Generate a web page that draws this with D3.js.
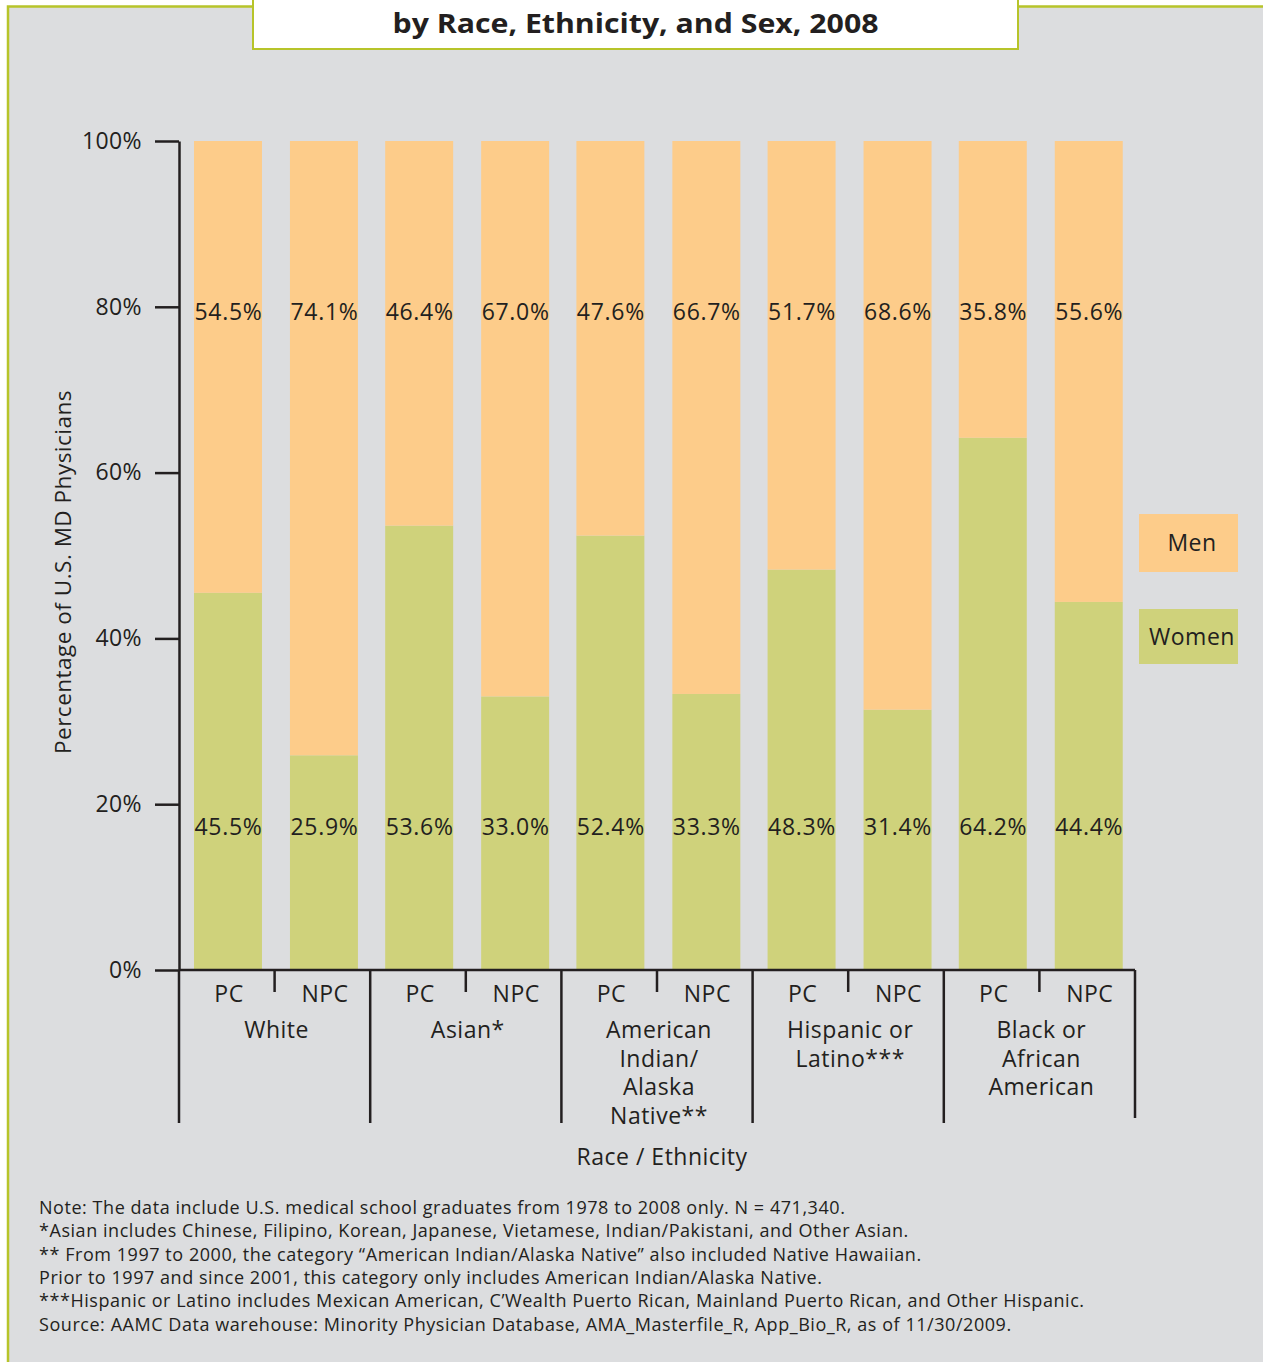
<!DOCTYPE html>
<html>
<head>
<meta charset="utf-8">
<script src="https://cdn.jsdelivr.net/npm/d3@7"></script>
<style>
  body { margin: 0; background: #fff; }
  svg { display: block; font-family: "Open Sans", "Noto Sans", sans-serif; }
</style>
</head>
<body>
<svg id="chart"></svg>
<script>
// data
const groups = ["White", "Asian*", "American Indian/Alaska Native**", "Hispanic or Latino***", "Black or African American"]
const groupLines = [["White"], ["Asian*"], ["American", "Indian/", "Alaska", "Native**"], ["Hispanic or", "Latino***"], ["Black or", "African", "American"]]
const types = ["PC", "NPC"]
const women = [45.5, 25.9, 53.6, 33.0, 52.4, 33.3, 48.3, 31.4, 64.2, 44.4]
const men = [54.5, 74.1, 46.4, 67.0, 47.6, 66.7, 51.7, 68.6, 35.8, 55.6]
const yTicks = [0, 20, 40, 60, 80, 100]
const notes = [
  "Note: The data include U.S. medical school graduates from 1978 to 2008 only. N = 471,340.",
  "*Asian includes Chinese, Filipino, Korean, Japanese, Vietamese, Indian/Pakistani, and Other Asian.",
  "** From 1997 to 2000, the category \u201cAmerican Indian/Alaska Native\u201d also included Native Hawaiian.",
  "Prior to 1997 and since 2001, this category only includes American Indian/Alaska Native.",
  "***Hispanic or Latino includes Mexican American, C\u2019Wealth Puerto Rican, Mainland Puerto Rican, and Other Hispanic.",
  "Source: AAMC Data warehouse: Minority Physician Database, AMA_Masterfile_R, App_Bio_R, as of 11/30/2009."
]

const W = 1263, H = 1362
const green = "#b7c42a", ink = "#231f20", bg = "#dcdddf"
const menColor = "#fdcc8a", womenColor = "#cfd27b"

const rows = women.map((w, i) => ({
  group: groups[Math.floor(i / 2)], type: types[i % 2], women: w, men: men[i]
}))

const svg = d3.select("#chart").attr("width", W).attr("height", H)

// frame + title box
svg.append("rect")
  .attr("x", 8).attr("y", 6.5).attr("width", W + 20).attr("height", H + 20)
  .attr("fill", bg).attr("stroke", green).attr("stroke-width", 2.5)

svg.append("rect")
  .attr("x", 253).attr("y", -10).attr("width", 765).attr("height", 59)
  .attr("fill", "#fff").attr("stroke", green).attr("stroke-width", 2)

svg.append("text")
  .attr("x", 635.5).attr("y", 33)
  .attr("text-anchor", "middle")
  .attr("fill", ink)
  .attr("textLength", 486).attr("lengthAdjust", "spacingAndGlyphs")
  .style("font", "bold 26px 'Open Sans', sans-serif")
  .text("by Race, Ethnicity, and Sex, 2008")

// scales
const x0 = d3.scaleBand().domain(groups).range([179, 1135])
const x1 = d3.scaleBand().domain(types).range([0, x0.bandwidth()])
  .paddingInner(0.2917).paddingOuter(0.142).align(0.55)
const y = d3.scaleLinear().domain([0, 100]).range([970, 141])
const barX = d => x0(d.group) + x1(d.type)
const barMid = d => barX(d) + x1.bandwidth() / 2

const stack = d3.stack().keys(["women", "men"])
const series = stack(rows)
const color = d3.scaleOrdinal().domain(["women", "men"]).range([womenColor, menColor])

svg.append("g").selectAll("g")
  .data(series)
  .join("g")
    .attr("fill", s => color(s.key))
  .selectAll("rect")
  .data(s => s)
  .join("rect")
    .attr("x", d => barX(d.data))
    .attr("y", d => y(d[1]))
    .attr("width", x1.bandwidth())
    .attr("height", d => y(d[0]) - y(d[1]))

// value labels
const labelFont = "23px 'Open Sans', sans-serif"
const labels = svg.append("g").attr("fill", ink).attr("text-anchor", "middle")
  .style("font", labelFont).style("letter-spacing", "0.7px")
labels.selectAll(".men").data(rows).join("text")
    .attr("class", "men")
    .attr("x", d => barMid(d) + 0.5)
    .attr("y", 320)
    .text(d => d.men.toFixed(1) + "%")
labels.selectAll(".women").data(rows).join("text")
    .attr("class", "women")
    .attr("x", d => barMid(d) + 0.5)
    .attr("y", 835)
    .text(d => d.women.toFixed(1) + "%")

// y axis
svg.append("g")
  .attr("transform", "translate(179,0)")
  .call(d3.axisLeft(y).tickValues(yTicks).tickSize(24).tickSizeOuter(0).tickPadding(13).tickFormat(d => d + "%"))
  .call(g => g.selectAll("line, path").attr("stroke", ink).attr("stroke-width", 2.5))
  .call(g => g.selectAll("text").attr("fill", ink).style("font", labelFont).style("letter-spacing", "0.4px"))

svg.append("text")
  .attr("transform", "translate(71,572) rotate(-90)")
  .attr("text-anchor", "middle")
  .attr("fill", ink)
  .style("font", "22.5px 'Open Sans', sans-serif")
  .style("letter-spacing", "0.5px")
  .text("Percentage of U.S. MD Physicians")

// x axis: baseline, group separators, inner ticks
const axisG = svg.append("g").attr("stroke", ink).attr("stroke-width", 2.5)
axisG.append("line").attr("x1", 179).attr("x2", 1135).attr("y1", 970).attr("y2", 970)
axisG.selectAll(".sep").data(groups.concat(["end"])).join("line")
    .attr("class", "sep")
    .attr("x1", (d, i) => i < groups.length ? x0(d) : x0.range()[1])
    .attr("x2", (d, i) => i < groups.length ? x0(d) : x0.range()[1])
    .attr("y1", 970).attr("y2", (d, i) => i < groups.length ? 1123 : 1118)
axisG.selectAll(".mid").data(groups).join("line")
    .attr("class", "mid")
    .attr("x1", d => x0(d) + x0.bandwidth() / 2)
    .attr("x2", d => x0(d) + x0.bandwidth() / 2)
    .attr("y1", 970).attr("y2", 992)

const catG = svg.append("g").attr("fill", ink).attr("text-anchor", "middle")
  .style("font", labelFont).style("letter-spacing", "0.5px")
catG.selectAll(".type").data(rows).join("text")
    .attr("class", "type")
    .attr("x", d => barMid(d) + 1)
    .attr("y", 1002)
    .text(d => d.type)
catG.selectAll(".grp").data(groups).join("text")
    .attr("class", "grp")
    .attr("x", d => x0(d) + x0.bandwidth() / 2 + 2)
    .attr("y", 1038)
  .selectAll("tspan")
  .data((d, i) => groupLines[i])
  .join("tspan")
    .attr("x", function() { return this.parentNode.getAttribute("x") })
    .attr("dy", (d, i) => i === 0 ? 0 : 28.5)
    .text(d => d)

svg.append("text")
  .attr("x", 662).attr("y", 1165)
  .attr("text-anchor", "middle").attr("fill", ink)
  .style("font", labelFont)
  .style("letter-spacing", "0.5px")
  .text("Race / Ethnicity")

// legend
const legend = [["Men", menColor, 514, 58], ["Women", womenColor, 609, 55]]
const lg = svg.append("g").selectAll("g").data(legend).join("g")
lg.append("rect")
  .attr("x", 1139).attr("y", d => d[2]).attr("width", 99).attr("height", d => d[3])
  .attr("fill", d => d[1])
lg.append("text")
  .attr("x", 1192).attr("y", d => d[2] + d[3] / 2)
  .attr("dy", "0.35em")
  .attr("text-anchor", "middle").attr("fill", ink)
  .style("font", labelFont)
  .style("letter-spacing", "0.5px")
  .text(d => d[0])

// notes
svg.append("g").attr("fill", ink)
  .style("font", "18px 'Open Sans', sans-serif").style("letter-spacing", "0.55px")
  .selectAll("text").data(notes).join("text")
    .attr("x", 39)
    .attr("y", (d, i) => 1214 + i * 23.3)
    .text(d => d)
</script>
</body>
</html>
